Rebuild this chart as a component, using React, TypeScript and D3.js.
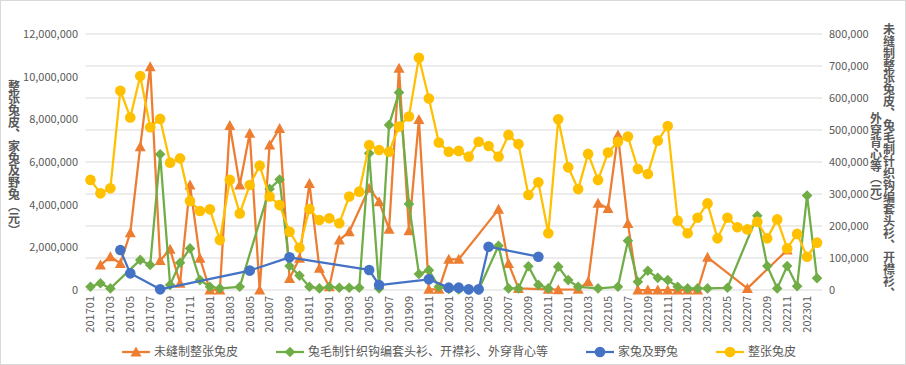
import * as d3 from 'd3'

// ---- data (元) ----
const months = [
  '201701', '201702', '201703', '201704', '201705', '201706', '201707', '201708', '201709', '201710', '201711', '201712',
  '201801', '201802', '201803', '201804', '201805', '201806', '201807', '201808', '201809', '201810', '201811', '201812',
  '201901', '201902', '201903', '201904', '201905', '201906', '201907', '201908', '201909', '201910', '201911', '201912',
  '202001', '202002', '202003', '202004', '202005', '202006', '202007', '202008', '202009', '202010', '202011', '202012',
  '202101', '202102', '202103', '202104', '202105', '202106', '202107', '202108', '202109', '202110', '202111', '202112',
  '202201', '202202', '202203', '202204', '202205', '202206', '202207', '202208', '202209', '202210', '202211', '202212',
  '202301', '202302',
]

// 未缝制整张兔皮 (right axis)
const unsewnSkins: (number | null)[] = [
  null, 78000, 104000, 83000, 179000, 448000, 698000, 92000, 127000, 21000, 328000, 99000,
  0, 0, 514000, 328000, 490000, 0, 453000, 505000, 36000, 99000, 333000, 68000,
  10000, 156000, 182000, null, 318000, 276000, 190000, 693000, 185000, 533000, 2000, 2000,
  96000, 96000, null, null, null, 252000, 83000, 5000, null, null, 2000, 1000,
  null, 2000, 26000, 271000, 255000, 484000, 208000, 0, 0, 0, 0, 0,
  0, 0, 102000, null, null, null, 5000, null, null, null, 125000, null,
  null, null,
]

// 兔毛制针织钩编套头衫、开襟衫、外穿背心等 (right axis)
const knitwear: (number | null)[] = [
  10000, 21000, 5000, null, null, 94000, 78000, 424000, 16000, 85000, 130000, 31000,
  10000, 5000, null, 10000, null, null, 316000, 345000, 75000, 45000, 10000, 5000,
  10000, 7000, 7000, 7000, 427000, 5000, 516000, 617000, 269000, 50000, 62000, 10000,
  3000, 2000, 1000, 1000, null, 138000, 5000, 5000, 74000, 16000, 5000, 73000,
  31000, 10000, null, 5000, null, 10000, 154000, 26000, 60000, 38000, 31000, 10000,
  5000, 5000, 5000, null, 7000, null, null, 232000, 75000, 5000, 75000, 12000,
  295000, 37000,
]

// 家兔及野兔 (left axis)
const rabbits: (number | null)[] = [
  null, null, null, 1875000, 780000, null, null, 30000, null, null, null, null,
  null, null, null, null, 910000, null, null, null, 1530000, null, null, null,
  null, null, null, null, 940000, 230000, null, null, null, null, 500000, null,
  110000, 110000, 30000, 30000, 2030000, null, null, null, null, 1560000, null, null,
  null, null, null, null, null, null, null, null, null, null, null, null,
  null, null, null, null, null, null, null, null, null, null, null, null,
  null, null,
]

// 整张兔皮 (left axis)
const wholeSkins: (number | null)[] = [
  5160000, 4530000, 4770000, 9340000, 8090000, 10030000, 7630000, 8020000, 5970000, 6170000, 4170000, 3700000,
  3780000, 2340000, 5160000, 3590000, 4920000, 5830000, 4380000, 3980000, 2730000, 1980000, 3800000, 3280000,
  3360000, 3130000, 4380000, 4610000, 6800000, 6560000, 6480000, 7660000, 8130000, 10890000, 8980000, 6910000,
  6480000, 6520000, 6250000, 6950000, 6750000, 6250000, 7270000, 6840000, 4450000, 5050000, 2660000, 8000000,
  5750000, 4730000, 6380000, 5160000, 6440000, 6950000, 7190000, 5670000, 5440000, 7000000, 7690000, 3250000,
  2660000, 3390000, 4060000, 2420000, 3390000, 2940000, 2840000, 3200000, 2420000, 3310000, 1950000, 2630000,
  1560000, 2220000,
]

const leftTicks = [0, 2000000, 4000000, 6000000, 8000000, 10000000, 12000000]
const rightTicks = [0, 100000, 200000, 300000, 400000, 500000, 600000, 700000, 800000]

const leftTitle = '整张兔皮、家兔及野兔（元）'
const rightTitle1 = '未缝制整张兔皮、兔毛制针织钩编套头衫、开襟衫、'
const rightTitle2 = '外穿背心等（元）'

type Marker = 'triangle' | 'diamond' | 'circle'

const series = [
  { name: '未缝制整张兔皮', values: unsewnSkins, axis: 'right', color: '#ED7D31', marker: 'triangle' as Marker },
  { name: '兔毛制针织钩编套头衫、开襟衫、外穿背心等', values: knitwear, axis: 'right', color: '#70AD47', marker: 'diamond' as Marker },
  { name: '家兔及野兔', values: rabbits, axis: 'left', color: '#4472C4', marker: 'circle' as Marker },
  { name: '整张兔皮', values: wholeSkins, axis: 'left', color: '#FFC000', marker: 'circle' as Marker },
]

const W = 906
const H = 365
const plot = { left: 85.5, right: 822, top: 34, bottom: 290 }
const FONT = '"Noto Sans CJK SC", "Noto Sans", sans-serif'
const TEXT = '#595959'
const GRID = '#d9d9d9'

function markerPath(kind: Marker): string {
  if (kind === 'triangle') return 'M0,-5.5L5.5,4.5L-5.5,4.5Z'
  if (kind === 'diamond') return 'M0,-5.3L5.3,0L0,5.3L-5.3,0Z'
  return d3.symbol(d3.symbolCircle, Math.PI * 5.3 * 5.3)() as string
}

export default function App() {
  const x = d3.scalePoint<string>().domain(months).range([plot.left, plot.right]).padding(0.5)
  const yLeft = d3.scaleLinear().domain([0, 12000000]).range([plot.bottom, plot.top])
  const yRight = d3.scaleLinear().domain([0, 800000]).range([plot.bottom, plot.top])
  const fmt = d3.format(',')

  // legend layout
  let lx = 122
  const legend = series.map((s) => {
    const item = { ...s, x: lx }
    lx += 32 + s.name.length * 12 + 38
    return item
  })

  return (
    <>
      <style>{'body{margin:0}'}</style>
      <svg width={W} height={H} style={{ display: 'block', fontFamily: FONT }}>
        <rect x={0.5} y={0.5} width={W - 1} height={H - 1} fill="#fff" stroke={GRID} />

        {/* gridlines follow the secondary axis */}
        {rightTicks.map((t) => (
          <line key={t} x1={plot.left} x2={plot.right} y1={yRight(t)} y2={yRight(t)} stroke={GRID} strokeWidth={1} />
        ))}

        {/* left axis labels */}
        {leftTicks.map((t) => (
          <text key={t} x={78} y={yLeft(t)} dy="0.35em" textAnchor="end" fontSize={11} fill={TEXT}>
            {fmt(t)}
          </text>
        ))}

        {/* right axis labels */}
        {rightTicks.map((t) => (
          <text key={t} x={829} y={yRight(t)} dy="0.35em" textAnchor="start" fontSize={11} fill={TEXT}>
            {fmt(t)}
          </text>
        ))}

        {/* x labels, every other month */}
        {months.map((m, i) =>
          i % 2 === 0 ? (
            <text
              key={m}
              transform={`translate(${x(m)},${plot.bottom + 6}) rotate(-90)`}
              dy="0.35em"
              textAnchor="end"
              fontSize={11}
              fill={TEXT}
            >
              {m}
            </text>
          ) : null
        )}

        {/* axis titles */}
        <text x={14} y={158} textAnchor="middle" fontSize={12} fontWeight="bold" fill={TEXT} style={{ writingMode: 'vertical-rl' }}>
          {leftTitle}
        </text>
        <text x={889} y={161} textAnchor="middle" fontSize={12} fontWeight="bold" fill={TEXT} style={{ writingMode: 'vertical-rl' }}>
          {rightTitle1}
        </text>
        <text x={876} y={160} textAnchor="middle" fontSize={12} fontWeight="bold" fill={TEXT} style={{ writingMode: 'vertical-rl' }}>
          {rightTitle2}
        </text>

        {/* series */}
        {series.map((s) => {
          const y = s.axis === 'left' ? yLeft : yRight
          const pts = s.values
            .map((v, i) => ({ m: months[i], v }))
            .filter((d) => d.v !== null) as { m: string; v: number }[]
          const line = d3
            .line<{ m: string; v: number }>()
            .x((d) => x(d.m) as number)
            .y((d) => y(d.v))
          const mp = markerPath(s.marker)
          return (
            <g key={s.name}>
              <path d={line(pts) as string} fill="none" stroke={s.color} strokeWidth={2.25} strokeLinejoin="round" />
              {pts.map((d) => (
                <path key={d.m} d={mp} transform={`translate(${x(d.m)},${y(d.v)})`} fill={s.color} />
              ))}
            </g>
          )
        })}

        {/* legend */}
        {legend.map((s) => (
          <g key={s.name} transform={`translate(${s.x},352)`}>
            <line x1={0} x2={28} y1={0} y2={0} stroke={s.color} strokeWidth={2.25} />
            <path d={markerPath(s.marker)} transform="translate(14,0)" fill={s.color} />
            <text x={32} y={0} dy="0.35em" fontSize={12} fill={TEXT}>
              {s.name}
            </text>
          </g>
        ))}
      </svg>
    </>
  )
}
